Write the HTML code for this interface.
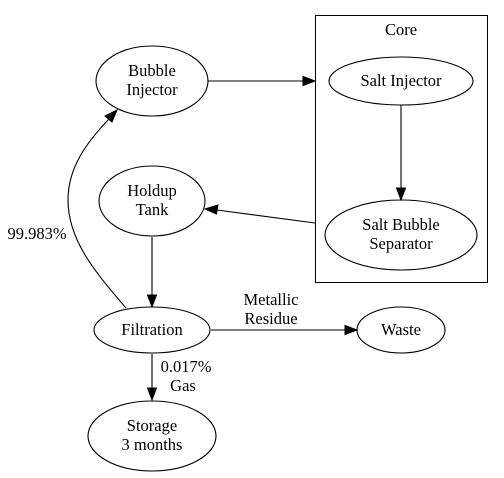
<!DOCTYPE html>
<html><head><meta charset="utf-8"><style>html,body{margin:0;padding:0;background:#fff}svg{display:block}.t{position:absolute;font-family:'Liberation Serif',serif;font-size:16.5px;line-height:19px;text-align:center;white-space:nowrap;transform:translateX(-50%);color:#000}</style></head><body>
<div style="position:relative;width:504px;height:478px;overflow:hidden">
<svg width="504" height="478" viewBox="0 0 504 478" xmlns="http://www.w3.org/2000/svg" style="position:absolute;left:0;top:0">
<rect x="315.5" y="15.5" width="172" height="267" fill="none" stroke="#000"/>
<g fill="none" stroke="#000" stroke-width="1.1">
<ellipse cx="152" cy="81" rx="56" ry="35"/>
<ellipse cx="401" cy="81" rx="72" ry="24"/>
<ellipse cx="401" cy="235" rx="76" ry="35"/>
<ellipse cx="152" cy="201" rx="53" ry="35"/>
<ellipse cx="152" cy="330" rx="58" ry="23"/>
<ellipse cx="401" cy="330" rx="44" ry="23"/>
<ellipse cx="152" cy="436" rx="64" ry="35"/>
<line x1="208" y1="81" x2="303" y2="81"/>
<line x1="401" y1="105" x2="401" y2="188"/>
<line x1="315" y1="223" x2="217" y2="210"/>
<line x1="152" y1="237" x2="152" y2="295"/>
<line x1="211" y1="330" x2="345" y2="330"/>
<line x1="152" y1="354" x2="152" y2="388"/>
<path d="M126,308 C95,272 68,240 68,200 C68,168 86,143 109,119"/>
</g>
<g fill="#000" stroke="#000">
<polygon points="315,81 303,76.5 303,85.5"/>
<polygon points="401,200 396.5,188 405.5,188"/>
<polygon points="205,209 218,205 216.5,214"/>
<polygon points="152,307 147.5,295 156.5,295"/>
<polygon points="357,330 345,325.5 345,334.5"/>
<polygon points="152,400 147.5,388 156.5,388"/>
<polygon points="117,110 112,122 105,116"/>
</g>
</svg>
<div class="t" style="left:401px;top:20px">Core</div>
<div class="t" style="left:152px;top:61px">Bubble<br>Injector</div>
<div class="t" style="left:401px;top:71px">Salt Injector</div>
<div class="t" style="left:401px;top:215px">Salt Bubble<br>Separator</div>
<div class="t" style="left:152px;top:181px">Holdup<br>Tank</div>
<div class="t" style="left:152px;top:320px">Filtration</div>
<div class="t" style="left:401px;top:320px">Waste</div>
<div class="t" style="left:152px;top:416px">Storage<br>3 months</div>
<div class="t" style="left:37px;top:224px">99.983%</div>
<div class="t" style="left:271px;top:290px">Metallic<br>Residue</div>
<div class="t" style="left:186px;top:357px">0.017%</div>
<div class="t" style="left:183px;top:376px">Gas</div>
</div>
</body></html>
